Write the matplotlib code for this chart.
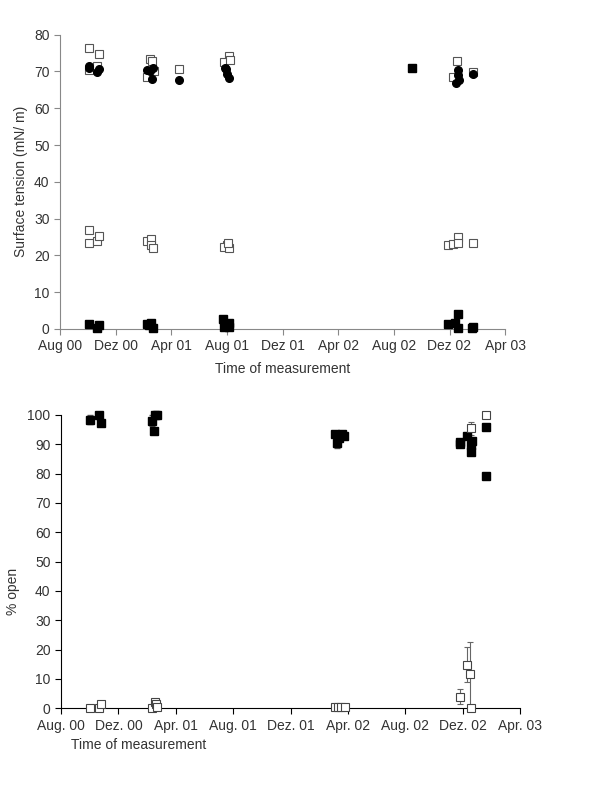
import matplotlib
matplotlib.use("Agg")
import matplotlib.pyplot as plt

plt.rcParams.update({
    "font.family": ["Liberation Sans", "DejaVu Sans"],
    "font.size": 10,
    "axes.spines.top": False,
    "axes.spines.right": False,
})

# x values are months since Aug 2000
# ── Top panel: surface tension ────────────────────────────────────────────────
top_ticks = ["Aug 00", "Dez 00", "Apr 01", "Aug 01", "Dez 01",
             "Apr 02", "Aug 02", "Dez 02", "Apr 03"]

up_open_x = [2.07, 2.81, 2.67, 2.07, 6.49, 6.61, 6.27, 6.75, 8.58,
             12.18, 11.77, 12.2, 28.56, 28.27, 29.67]
up_open_y = [76.5, 74.6, 71.6, 70.3, 73.4, 72.9, 68.4, 70.0, 70.7,
             74.1, 72.5, 73.0, 72.9, 68.4, 69.9]

up_circ_x = [2.07, 2.11, 2.65, 2.83, 6.25, 6.44, 6.72, 6.61, 8.58,
             11.96, 12.01, 12.13, 11.85, 28.59, 28.59, 28.47, 28.65, 29.67]
up_circ_y = [71.6, 70.9, 69.8, 70.7, 70.5, 70.0, 70.9, 68.0, 67.7,
             70.7, 69.4, 68.2, 70.8, 70.5, 69.1, 66.9, 67.6, 69.3]

up_fsq_x = [25.3]
up_fsq_y = [71.0]

lo_open_x = [2.07, 2.07, 2.67, 2.81, 6.25, 6.51, 6.56, 6.72, 12.01, 11.77,
             12.16, 12.04, 27.89, 28.27, 28.59, 28.63, 29.69]
lo_open_y = [26.9, 23.3, 23.8, 25.2, 23.8, 24.5, 22.9, 21.9, 22.9, 22.4,
             22.0, 23.5, 22.7, 23.2, 25.0, 23.3, 23.3]

lo_fsq_x = [2.07, 2.67, 2.81, 6.25, 6.51, 6.68, 6.38, 11.73, 12.16, 11.77,
            12.18, 27.89, 28.4, 28.59, 28.63, 29.69, 29.6]
lo_fsq_y = [1.3, 0.2, 1.1, 1.4, 1.6, 0.2, 1.0, 2.6, 1.5, 0.6,
            0.6, 1.4, 1.7, 4.0, 0.2, 0.4, 0.2]

# ── Bottom panel: % open ──────────────────────────────────────────────────────
bot_ticks = ["Aug. 00", "Dez. 00", "Apr. 01", "Aug. 01", "Dez. 01",
             "Apr. 02", "Aug. 02", "Dez. 02", "Apr. 03"]

b_fill_x = [2.04, 2.67, 2.79, 6.34, 6.48, 6.57, 6.71, 19.09, 19.6, 19.74,
            19.25, 19.37, 27.85, 27.85, 28.31, 28.62, 28.57, 28.57, 29.62, 29.62]
b_fill_y = [98.4, 100, 97.2, 98.1, 94.5, 100, 100, 93.4, 93.4, 92.8,
            90.3, 92.0, 90.9, 90.0, 92.9, 91.2, 89.8, 87.3, 96.0, 79.2]
b_fill_e = [1.5, 0, 1.0, 2.0, 0.8, 0, 0, 0.5, 1.0, 0.5,
            1.5, 0.5, 0.5, 0.5, 1.0, 0.5, 0.5, 0.5, 0.8, 0]

b_open_x = [2.04, 2.65, 2.79, 6.32, 6.55, 6.59, 6.67, 19.09, 19.3, 19.5,
            19.79, 27.83, 28.3, 28.52, 28.59, 28.57, 29.62]
b_open_y = [0, 0, 1.4, 0, 2.3, 1.5, 0.6, 0.3, 0.5, 0.6,
            0.5, 4.0, 14.8, 11.7, 95.5, 0, 100]
b_open_e = [0, 0, 0.5, 0, 0.8, 0.5, 0.3, 0.3, 0.3, 0.3,
            0.3, 2.5, 6.0, 11.0, 2.2, 0, 0]

TXT = "#333333"

fig = plt.figure(figsize=(6.0, 7.87), dpi=100)

# top axes
ax1 = fig.add_axes([0.10, 0.582, 0.742, 0.374])
kw = dict(ms=5.5, clip_on=False, zorder=3)
ax1.plot(up_open_x, up_open_y, "s", mfc="white", mec="#555555", mew=0.8, **kw)
ax1.plot(up_circ_x, up_circ_y, "o", color="black", **kw)
ax1.plot(up_fsq_x, up_fsq_y, "s", color="black", **kw)
ax1.plot(lo_open_x, lo_open_y, "s", mfc="white", mec="#555555", mew=0.8, **kw)
ax1.plot(lo_fsq_x, lo_fsq_y, "s", color="black", **kw)
ax1.set_xlim(0, 32)
ax1.set_ylim(0, 80)
ax1.set_xticks(range(0, 33, 4))
ax1.set_xticklabels(top_ticks)
ax1.set_yticks(range(0, 81, 10))
ax1.set_ylabel("Surface tension (mN/ m)", color=TXT, fontsize=10)
ax1.set_xlabel("Time of measurement", color=TXT, fontsize=10, labelpad=6)
for s in ("left", "bottom"):
    ax1.spines[s].set_color("#888888")
ax1.tick_params(colors="#888888", labelcolor=TXT, direction="out", length=4, labelsize=10)

# bottom axes
ax2 = fig.add_axes([0.1017, 0.10, 0.765, 0.3727])
eb1 = ax2.errorbar(b_fill_x, b_fill_y, yerr=b_fill_e, fmt="s", color="black",
                   ecolor="#555555", elinewidth=0.8, capsize=2, ms=5.5, zorder=3)
eb2 = ax2.errorbar(b_open_x, b_open_y, yerr=b_open_e, fmt="s", mfc="white", mec="#444444",
                   ecolor="#666666", elinewidth=0.8, capsize=2, ms=6, mew=0.8, zorder=3)
for eb in (eb1, eb2):
    for art in eb.get_children():
        art.set_clip_on(False)
ax2.set_xlim(0, 32)
ax2.set_ylim(0, 100)
ax2.set_xticks(range(0, 33, 4))
ax2.set_xticklabels(bot_ticks)
ax2.set_yticks(range(0, 101, 10))
ax2.set_ylabel("% open", color=TXT, fontsize=10)
ax2.yaxis.set_label_coords(-0.09, 0.4)
ax2.set_xlabel("Time of measurement", color=TXT, fontsize=10)
ax2.xaxis.set_label_coords(0.17, -0.1)
ax2.tick_params(colors="black", labelcolor=TXT, direction="out", length=4, labelsize=10)

fig.savefig("out.png", dpi=100)
